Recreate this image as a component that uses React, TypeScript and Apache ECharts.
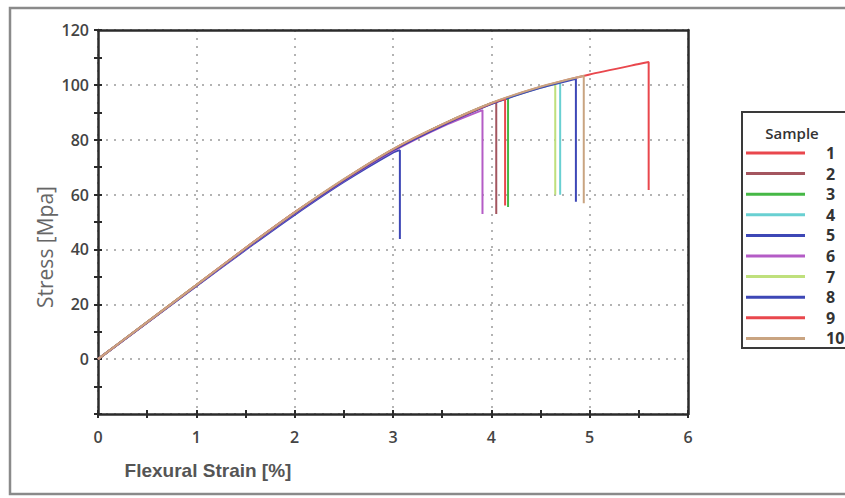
import React, { useEffect, useRef } from "react";
import * as echarts from "echarts";

// ---- data ----
const sampleNames = ["1", "2", "3", "4", "5", "6", "7", "8", "9", "10"];
const strainPts = [0, 0.5, 1, 1.5, 2, 2.5, 3, 3.5, 4, 4.5, 5, 5.5];

const stress1 = [0, 13.5, 27.0, 40.5, 53.5, 65.5, 76.5, 85.5, 93.3, 99.2, 103.8, 107.6];
const stress2 = [0, 13.4, 26.9, 40.3, 53.3, 65.3, 76.3, 85.4, 93.1];
const stress3 = [0, 13.5, 27.0, 40.4, 53.4, 65.4, 76.4, 85.5, 93.3];
const stress4 = [0, 13.5, 26.9, 40.4, 53.4, 65.4, 76.4, 85.4, 93.2, 99.0];
const stress5 = [0, 13.3, 26.6, 39.8, 52.6, 64.6, 75.3];
const stress6 = [0, 13.4, 26.8, 40.1, 53.0, 65.0, 75.8, 84.8];
const stress7 = [0, 13.5, 27.0, 40.4, 53.4, 65.4, 76.4, 85.4, 93.2, 99.1];
const stress8 = [0, 13.4, 26.8, 40.2, 53.1, 65.1, 76.1, 85.1, 93.0, 98.9];
const stress9 = [0, 13.5, 27.0, 40.5, 53.5, 65.5, 76.5, 85.5, 93.3];
const stress10 = [0, 13.5, 27.0, 40.5, 53.5, 65.6, 76.6, 85.6, 93.4, 99.3];

const failStrain = [5.6, 4.05, 4.17, 4.7, 3.07, 3.91, 4.65, 4.86, 4.14, 4.94];
const failStress = [108.3, 93.7, 95.0, 100.8, 76.2, 90.8, 100.5, 102.2, 94.9, 103.3];
const breakStress = [61.7, 52.9, 55.5, 59.9, 43.8, 52.9, 59.9, 57.4, 56.0, 56.8];

const xTickLabels = ["0", "1", "2", "3", "4", "5", "6"];
const yTickLabels = ["", "0", "20", "40", "60", "80", "100", "120"];

// ---- styles ----
const sampleColors = [
  "#e9474d",
  "#a4565f",
  "#46b846",
  "#69d0d2",
  "#3d47b6",
  "#b45cc6",
  "#bfe07c",
  "#3d47b6",
  "#e9474d",
  "#c9a481",
];

const allStress = [stress1, stress2, stress3, stress4, stress5, stress6, stress7, stress8, stress9, stress10];

export default function App() {
  const ref = useRef<HTMLDivElement>(null);

  useEffect(() => {
    if (!ref.current) return;
    const chart = echarts.init(ref.current, null, { renderer: "svg" });

    const series = sampleNames.map((name, i) => {
      const pts: [number, number][] = allStress[i].map((s, k) => [strainPts[k], s]);
      pts.push([failStrain[i], failStress[i]]);
      pts.push([failStrain[i], breakStress[i]]);
      return {
        name,
        type: "line",
        data: pts,
        showSymbol: false,
        symbol: "none",
        smooth: 0.2,
        color: sampleColors[i],
        lineStyle: { width: 2, color: sampleColors[i] },
        z: 2 + i,
      };
    });

    const tickStyle = { color: "#2b2b2b", width: 2 };
    const frameLine = { color: "#2b2b2b", width: 2.5 };
    const labelFont = {
      fontFamily: "Open Sans",
      fontWeight: 600,
      fontSize: 16,
      color: "#444",
    };
    const gridLine = { color: "#b3b3b3", width: 2, type: [2, 6] };

    chart.setOption({
      animation: false,
      backgroundColor: "#ffffff",
      grid: {
        left: 98,
        top: 30,
        right: 157,
        bottom: 84,
        show: false,
      },
      xAxis: [
        {
          type: "value",
          min: 0,
          max: 6,
          interval: 1,
          axisLine: { show: true, onZero: false, lineStyle: frameLine },
          axisTick: { show: true, inside: false, length: 4, lineStyle: tickStyle },
          minorTick: { show: true, splitNumber: 2, length: 4, lineStyle: tickStyle },
          axisLabel: {
            ...labelFont,
            margin: 15,
            formatter: (v: number) => xTickLabels[Math.round(v)] ?? "",
          },
          splitLine: { show: true, lineStyle: gridLine },
        },
        {
          type: "value",
          min: 0,
          max: 6,
          interval: 1,
          position: "bottom",
          axisLine: { show: false, onZero: false },
          axisTick: { show: true, inside: true, length: 4, lineStyle: tickStyle },
          minorTick: { show: true, splitNumber: 2, length: 4, lineStyle: tickStyle },
          axisLabel: { show: false },
          splitLine: { show: false },
        },
        {
          type: "value",
          min: 0,
          max: 6,
          interval: 1,
          position: "top",
          axisLine: { show: true, onZero: false, lineStyle: frameLine },
          axisTick: { show: false },
          axisLabel: { show: false },
          splitLine: { show: false },
        },
      ],
      yAxis: [
        {
          type: "value",
          min: -20,
          max: 120,
          interval: 20,
          axisLine: { show: true, onZero: false, lineStyle: frameLine },
          axisTick: { show: true, inside: false, length: 4, lineStyle: tickStyle },
          minorTick: { show: true, splitNumber: 2, length: 4, lineStyle: tickStyle },
          axisLabel: {
            ...labelFont,
            margin: 9,
            formatter: (v: number) => yTickLabels[Math.round((v + 20) / 20)] ?? "",
          },
          splitLine: { show: true, lineStyle: gridLine },
        },
        {
          type: "value",
          min: -20,
          max: 120,
          interval: 20,
          position: "left",
          axisLine: { show: false, onZero: false },
          axisTick: { show: true, inside: true, length: 4, lineStyle: tickStyle },
          minorTick: { show: true, splitNumber: 2, length: 4, lineStyle: tickStyle },
          axisLabel: { show: false },
          splitLine: { show: false },
        },
        {
          type: "value",
          min: -20,
          max: 120,
          interval: 20,
          position: "right",
          axisLine: { show: true, onZero: false, lineStyle: frameLine },
          axisTick: { show: false },
          axisLabel: { show: false },
          splitLine: { show: false },
        },
      ],
      legend: {
        orient: "vertical",
        left: 746,
        top: 145,
        padding: 0,
        itemWidth: 59,
        itemHeight: 3,
        itemGap: 4.6,
        icon: "rect",
        selectedMode: false,
        data: sampleNames,
        textStyle: {
          fontFamily: "Open Sans",
          fontWeight: "bold",
          fontSize: 16,
          lineHeight: 15,
          color: "#333",
          padding: [0, 0, 0, 16],
        },
      },
      graphic: [
        {
          type: "rect",
          shape: { x: 10, y: 8, width: 870, height: 486 },
          style: { fill: "none", stroke: "#8a8a8a", lineWidth: 2.5 },
          silent: true,
          z: -10,
        },
        {
          type: "rect",
          shape: { x: 742, y: 112, width: 130, height: 236 },
          style: { fill: "#ffffff", stroke: "#3a3a3a", lineWidth: 2 },
          silent: true,
          z: 1,
        },
        {
          type: "text",
          x: 792,
          y: 133,
          style: {
            text: "Sample",
            fontFamily: "Open Sans",
            fontWeight: 600,
            fontSize: 15,
            fill: "#333",
            align: "center",
            verticalAlign: "middle",
          },
          z: 2,
        },
        {
          type: "text",
          x: 208,
          y: 470,
          style: {
            text: "Flexural Strain [%]",
            fontFamily: "Liberation Sans",
            fontWeight: "bold",
            fontSize: 19,
            fill: "#555",
            align: "center",
            verticalAlign: "middle",
          },
        },
        {
          type: "text",
          x: 45,
          y: 247,
          rotation: Math.PI / 2,
          style: {
            text: "Stress [Mpa]",
            fontFamily: "Open Sans",
            fontSize: 21,
            fill: "#666",
            align: "center",
            verticalAlign: "middle",
          },
        },
      ],
      series,
    });

    return () => chart.dispose();
  }, []);

  return (
    <div
      ref={ref}
      style={{ position: "fixed", left: 0, top: 0, width: 845, height: 498 }}
    />
  );
}
